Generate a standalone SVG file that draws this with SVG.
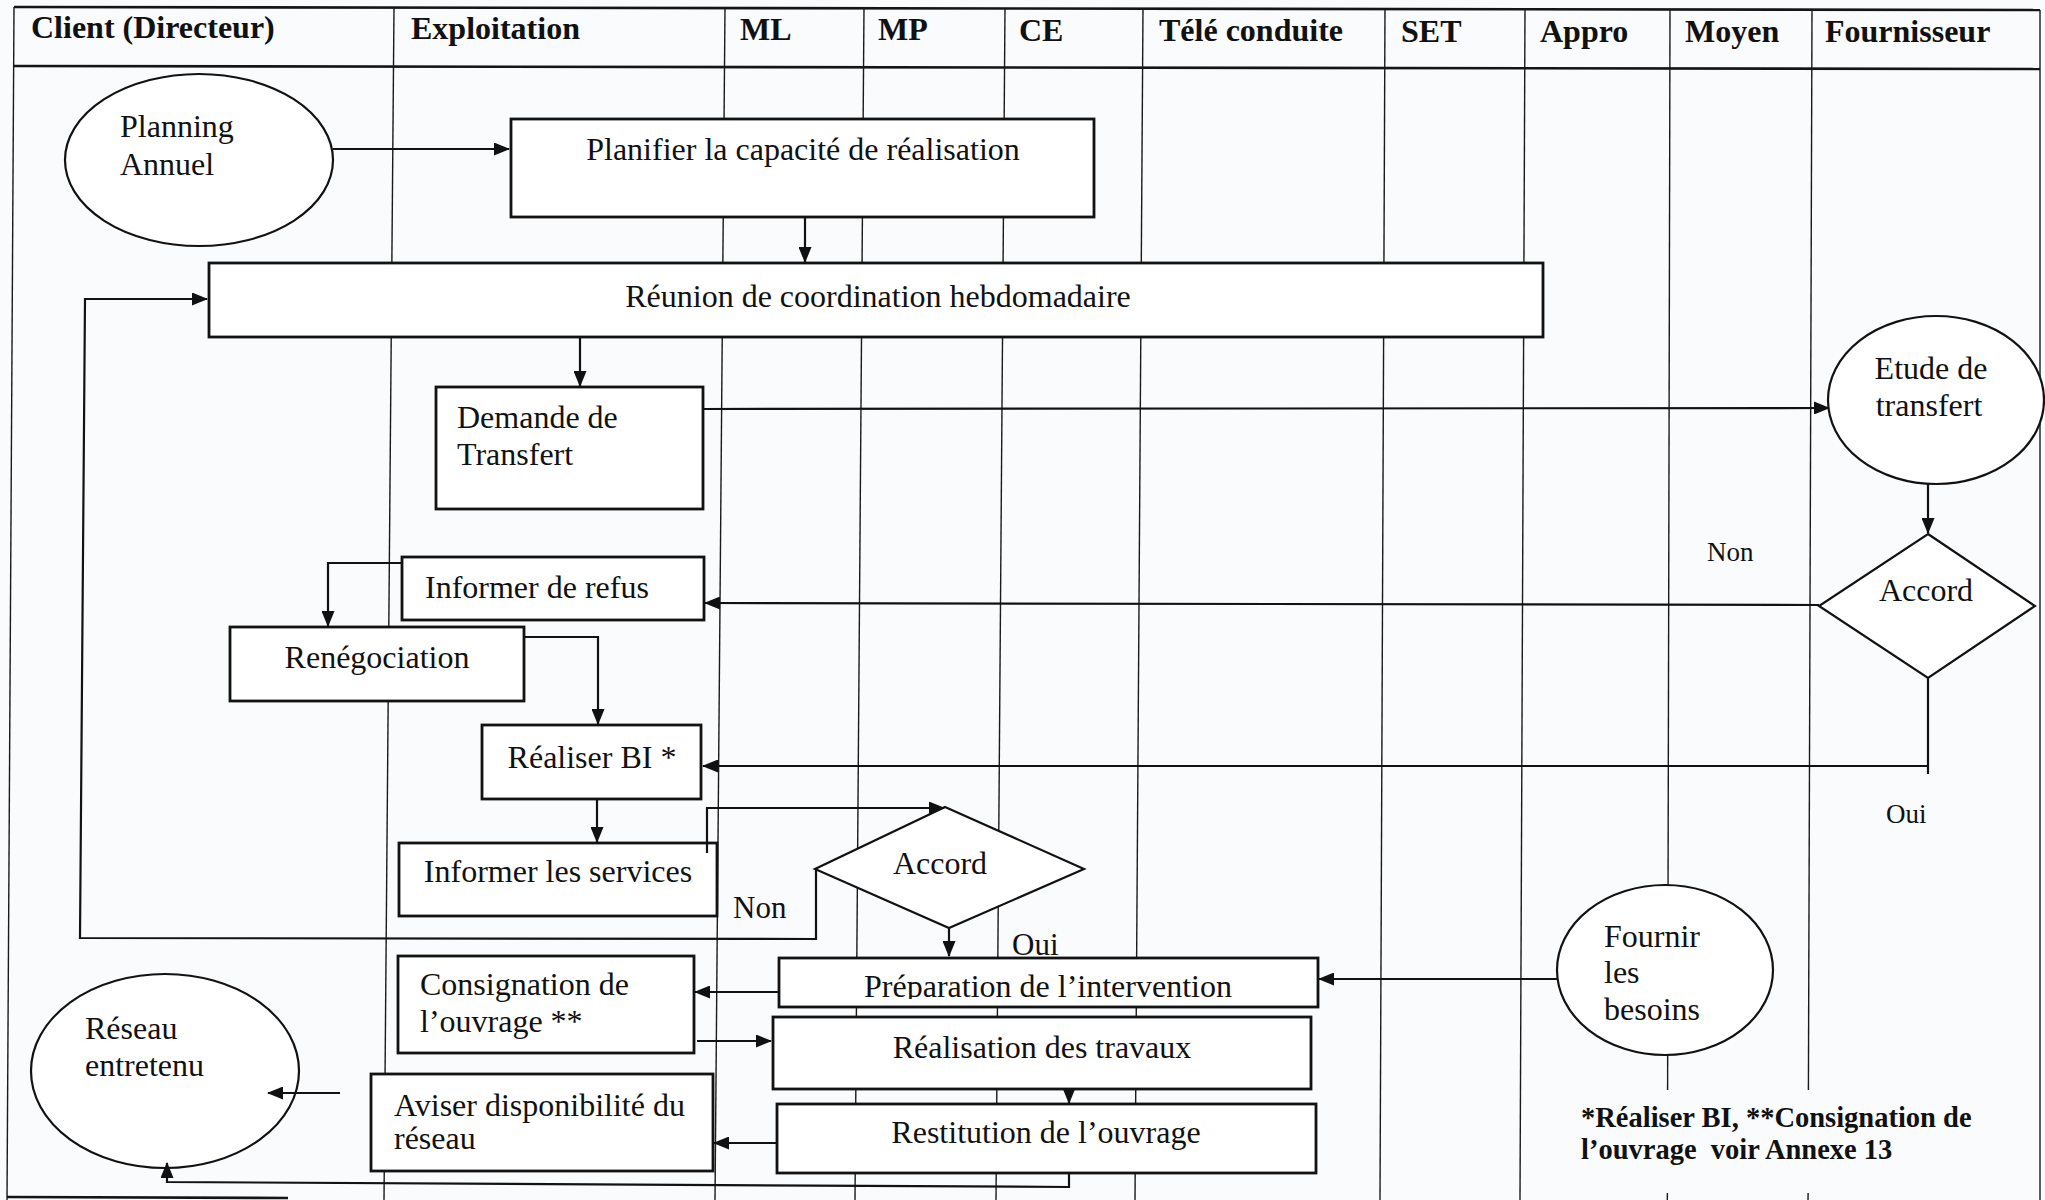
<svg xmlns="http://www.w3.org/2000/svg" width="2045" height="1200" viewBox="0 0 2045 1200">
  <style>
    text { font-family: "Liberation Serif", "Times New Roman", serif; fill: #111; }
    .hdr { font-size: 32px; font-weight: bold; }
    .t { font-size: 32px; }
    .lab { font-size: 27px; }
    .labm { font-size: 31px; }
    .note { font-size: 28.5px; font-weight: bold; white-space: pre; }
    .lane { stroke: #1a1a1a; stroke-width: 1.4; fill: none; }
    .rule { stroke: #151515; stroke-width: 2.6; fill: none; }
    .box { fill: #ffffff; stroke: #121212; stroke-width: 2.8; }
    .shape { fill: #ffffff; stroke: #121212; stroke-width: 2.2; }
    .con { fill: none; stroke: #121212; stroke-width: 2.2; }
    .arr { marker-end: url(#head); }
  </style>
  <defs>
    <marker id="head" markerUnits="userSpaceOnUse" markerWidth="16" markerHeight="13" refX="15" refY="6.5" orient="auto">
      <path d="M0,0 L16,6.5 L0,13 z" fill="#111"/>
    </marker>
    <clipPath id="prepClip">
      <rect x="779" y="958" width="540" height="41"/>
    </clipPath>
  </defs>

  <rect x="0" y="0" width="2045" height="1200" fill="#fafbfc"/>

  <!-- swimlane grid -->
  <g id="lanes">
    <line class="rule" x1="14" y1="7" x2="2040" y2="10"/>
    <line class="rule" x1="14" y1="66" x2="2040" y2="69"/>
    <line class="rule" x1="7" y1="1197" x2="288" y2="1198"/>
    <line class="lane" x1="14" y1="7" x2="7" y2="1200"/>
    <line class="lane" x1="394" y1="7" x2="384" y2="1200"/>
    <line class="lane" x1="725" y1="7" x2="715" y2="1200"/>
    <line class="lane" x1="864" y1="7" x2="855" y2="1200"/>
    <line class="lane" x1="1005" y1="8" x2="996" y2="1200"/>
    <line class="lane" x1="1143" y1="8" x2="1135" y2="1200"/>
    <line class="lane" x1="1385" y1="8" x2="1380" y2="1200" stroke="#1d3f2c"/>
    <line class="lane" x1="1525" y1="9" x2="1520" y2="1200"/>
    <line class="lane" x1="1670" y1="9" x2="1667.6" y2="1090"/>
    <line class="lane" x1="1667.4" y1="1193" x2="1667.3" y2="1200"/>
    <line class="lane" x1="1812" y1="9" x2="1808.4" y2="1090" stroke="#3a3a1c"/>
    <line class="lane" x1="1808.1" y1="1193" x2="1808" y2="1200" stroke="#3a3a1c"/>
    <line class="lane" x1="2040" y1="10" x2="2040" y2="1200"/>
  </g>

  <!-- lane titles -->
  <g id="headers">
    <text class="hdr" x="31" y="38">Client (Directeur)</text>
    <text class="hdr" x="411" y="39">Exploitation</text>
    <text class="hdr" x="740" y="40">ML</text>
    <text class="hdr" x="878" y="40">MP</text>
    <text class="hdr" x="1019" y="41">CE</text>
    <text class="hdr" x="1159" y="41">Télé conduite</text>
    <text class="hdr" x="1401" y="42">SET</text>
    <text class="hdr" x="1540" y="42">Appro</text>
    <text class="hdr" x="1685" y="42">Moyen</text>
    <text class="hdr" x="1825" y="42">Fournisseur</text>
  </g>

  <!-- process steps -->
  <g id="planning-annuel">
    <ellipse class="shape" cx="199" cy="160" rx="134" ry="86"/>
    <text class="t" x="120" y="137">Planning</text>
    <text class="t" x="120" y="175">Annuel</text>
  </g>
  <g id="planifier">
    <rect class="box" x="511" y="119" width="583" height="98"/>
    <text class="t" x="803" y="160" text-anchor="middle">Planifier la capacité de réalisation</text>
  </g>
  <g id="reunion">
    <rect class="box" x="209" y="263" width="1334" height="74"/>
    <text class="t" x="878" y="307" text-anchor="middle">Réunion de coordination hebdomadaire</text>
  </g>
  <g id="demande-transfert">
    <rect class="box" x="436" y="387" width="267" height="122"/>
    <text class="t" x="457" y="428">Demande de</text>
    <text class="t" x="457" y="465">Transfert</text>
  </g>
  <g id="etude-transfert">
    <ellipse class="shape" cx="1936" cy="400" rx="108" ry="84"/>
    <text class="t" x="1931" y="379" text-anchor="middle">Etude de</text>
    <text class="t" x="1929" y="416" text-anchor="middle">transfert</text>
  </g>
  <g id="accord-fournisseur">
    <polygon class="shape" points="1928,534 2035,606 1928,678 1819,606"/>
    <text class="t" x="1926" y="601" text-anchor="middle">Accord</text>
  </g>
  <g id="informer-refus">
    <rect class="box" x="402" y="557" width="302" height="63"/>
    <text class="t" x="425" y="598">Informer de refus</text>
  </g>
  <g id="renegociation">
    <rect class="box" x="230" y="627" width="294" height="74"/>
    <text class="t" x="377" y="668" text-anchor="middle">Renégociation</text>
  </g>
  <g id="realiser-bi">
    <rect class="box" x="482" y="725" width="219" height="74"/>
    <text class="t" x="592" y="768" text-anchor="middle">Réaliser BI *</text>
  </g>
  <g id="informer-services">
    <rect class="box" x="399" y="843" width="318" height="73"/>
    <text class="t" x="558" y="882" text-anchor="middle">Informer les services</text>
  </g>
  <g id="accord-services">
    <polygon class="shape" points="945,807 1084,869 949,928 815,869"/>
    <text class="t" x="940" y="874" text-anchor="middle">Accord</text>
  </g>
  <g id="preparation">
    <rect class="box" x="779" y="958" width="539" height="49"/>
    <text class="t" x="1048" y="997" text-anchor="middle" clip-path="url(#prepClip)">Préparation de l’intervention</text>
  </g>
  <g id="fournir-besoins">
    <ellipse class="shape" cx="1665" cy="970" rx="108" ry="85"/>
    <text class="t" x="1604" y="947">Fournir</text>
    <text class="t" x="1604" y="983">les</text>
    <text class="t" x="1604" y="1020">besoins</text>
  </g>
  <g id="consignation">
    <rect class="box" x="398" y="956" width="296" height="97"/>
    <text class="t" x="420" y="995">Consignation de</text>
    <text class="t" x="420" y="1032">l’ouvrage **</text>
  </g>
  <g id="realisation">
    <rect class="box" x="773" y="1017" width="538" height="72"/>
    <text class="t" x="1042" y="1058" text-anchor="middle">Réalisation des travaux</text>
  </g>
  <g id="restitution">
    <rect class="box" x="777" y="1104" width="539" height="69"/>
    <text class="t" x="1046" y="1143" text-anchor="middle">Restitution de l’ouvrage</text>
  </g>
  <g id="aviser">
    <rect class="box" x="371" y="1074" width="342" height="97"/>
    <text class="t" x="394" y="1116">Aviser disponibilité du</text>
    <text class="t" x="394" y="1149">réseau</text>
  </g>
  <g id="reseau-entretenu">
    <ellipse class="shape" cx="165" cy="1071" rx="134" ry="97"/>
    <text class="t" x="85" y="1039">Réseau</text>
    <text class="t" x="85" y="1076">entretenu</text>
  </g>

  <!-- flow connectors and branch labels -->
  <g id="connectors">
    <path class="con arr" d="M333,149 H509"/>
    <path class="con arr" d="M805,217 V262"/>
    <path class="con arr" d="M580,337 V386"/>
    <path class="con arr" d="M703,409 L1829,408"/>
    <path class="con arr" d="M1928,484 V533"/>
    <path class="con arr" d="M1819,605 L705,603"/>
    <path class="con arr" d="M1928,678 V774 M1928,766 H703"/>
    <path class="con arr" d="M402,563 H328 V626"/>
    <path class="con arr" d="M524,637 H598 V724"/>
    <path class="con arr" d="M597,799 V842"/>
    <path class="con arr" d="M707,853 V808 H944"/>
    <path class="con arr" d="M816,869 V939 L80,938 L85,299 H207"/>
    <path class="con arr" d="M949,928 V956"/>
    <path class="con arr" d="M1557,979 H1319"/>
    <path class="con arr" d="M779,992 H695"/>
    <path class="con arr" d="M697,1041 H771"/>
    <path class="con arr" d="M1069,1089 V1103"/>
    <path class="con arr" d="M777,1143 H714"/>
    <path class="con arr" d="M340,1093 H268"/>
    <path class="con arr" d="M1069,1173 V1187 L167,1182 V1163"/>
    <text class="lab" x="1707" y="561">Non</text>
    <text class="lab" x="1886" y="823">Oui</text>
    <text class="labm" x="733" y="918">Non</text>
    <text class="labm" x="1012" y="955">Oui</text>
  </g>

  <g id="footnote">
    <text class="note" x="1581" y="1127">*Réaliser BI, **Consignation de</text>
    <text class="note" x="1581" y="1159">l’ouvrage  voir Annexe 13</text>
  </g>
</svg>
